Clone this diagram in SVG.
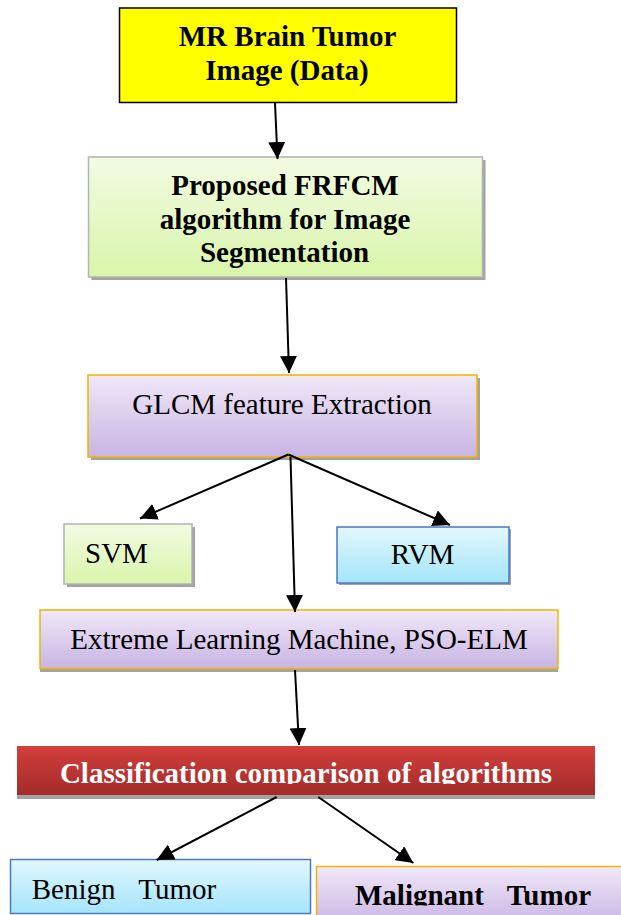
<svg xmlns="http://www.w3.org/2000/svg" width="621" height="915" viewBox="0 0 621 915">
<defs>
<linearGradient id="gGreen" x1="0" y1="0" x2="0" y2="1"><stop offset="0" stop-color="#f2fbe3"/><stop offset="1" stop-color="#d9f5aa"/></linearGradient>
<linearGradient id="gPurple" x1="0" y1="0" x2="0" y2="1"><stop offset="0" stop-color="#f0e8f8"/><stop offset="1" stop-color="#c8b4e3"/></linearGradient>
<linearGradient id="gBlue" x1="0" y1="0" x2="0" y2="1"><stop offset="0" stop-color="#e2f7fd"/><stop offset="1" stop-color="#a4e5fb"/></linearGradient>
<linearGradient id="gRed" x1="0" y1="0" x2="0" y2="1"><stop offset="0" stop-color="#d33f3b"/><stop offset="1" stop-color="#a22b2a"/></linearGradient>
<marker id="arr" markerUnits="userSpaceOnUse" markerWidth="17" markerHeight="17" refX="16" refY="8" orient="auto" viewBox="0 0 16 16"><path d="M0,0 L16,8 L0,16 z" fill="#000"/></marker>
<clipPath id="clipCls"><rect x="0" y="740" width="621" height="44"/></clipPath>
<clipPath id="clipMal"><rect x="316" y="866" width="305" height="39.5"/></clipPath>
</defs>
<style>
.t{font-family:"Liberation Serif","Times New Roman",serif;font-size:29px;fill:#000}
.b{font-weight:bold}
.c{text-anchor:middle}
.sh{fill:#a3a3a3}
.conn{stroke:#000;stroke-width:2;fill:none;marker-end:url(#arr)}
</style>

<g id="node-data">
<rect x="119.5" y="8" width="337" height="94.5" fill="#ffff00" stroke="#000" stroke-width="1.5"/>
<text class="t b c" x="287.5" y="46">MR Brain Tumor</text>
<text class="t b c" x="287" y="80">Image (Data)</text>
</g>

<g id="node-frfcm">
<rect class="sh" x="91.5" y="160" width="394" height="120"/>
<rect x="88.5" y="157" width="394" height="120" fill="url(#gGreen)" stroke="#b3b3b3" stroke-width="1.5"/>
<text class="t b c" x="285" y="195">Proposed FRFCM</text>
<text class="t b c" x="285" y="229">algorithm for Image</text>
<text class="t b c" x="284.5" y="262">Segmentation</text>
</g>

<g id="node-glcm">
<rect class="sh" x="91" y="378" width="389" height="82"/>
<rect x="88" y="375" width="389" height="82" fill="url(#gPurple)" stroke="#f2b400" stroke-width="1.5"/>
<text class="t c" x="282" y="413.5">GLCM feature Extraction</text>
</g>

<g id="node-svm">
<rect class="sh" x="67" y="527" width="128" height="60"/>
<rect x="64" y="524" width="128" height="60" fill="url(#gGreen)" stroke="#b3b3b3" stroke-width="1.5"/>
<text class="t" x="85" y="563">SVM</text>
</g>

<g id="node-rvm">
<rect class="sh" x="339" y="529" width="172" height="56"/>
<rect x="337" y="527" width="172" height="56" fill="url(#gBlue)" stroke="#4a78c2" stroke-width="1.5"/>
<text class="t c" x="422.5" y="564">RVM</text>
</g>

<g id="node-elm">
<rect class="sh" x="40" y="613" width="518" height="59"/>
<rect x="40" y="610" width="518" height="58.5" fill="url(#gPurple)" stroke="#f2b400" stroke-width="1.5"/>
<text class="t c" x="299" y="649">Extreme Learning Machine, PSO-ELM</text>
</g>

<g id="node-classification">
<rect class="sh" x="17" y="750" width="578" height="49"/>
<rect x="17" y="746" width="578" height="49" fill="url(#gRed)"/>
<g clip-path="url(#clipCls)">
<text class="t b c" x="306" y="782.5" style="fill:#ffffff">Classification comparison of algorithms</text>
</g>
</g>

<g id="node-benign">
<rect x="10.5" y="859.5" width="300" height="54" fill="url(#gBlue)" stroke="#4a78c2" stroke-width="1.5"/>
<text class="t" x="31.7" y="898.5">Benign<tspan x="138.3">Tumor</tspan></text>
</g>

<g id="node-malignant">
<rect x="316.5" y="866.5" width="310" height="60" fill="url(#gPurple)" stroke="#f2b400" stroke-width="1.5"/>
<g clip-path="url(#clipMal)">
<text class="t b" x="355" y="904.5">Malignant<tspan x="506.7">Tumor</tspan></text>
</g>
</g>

<g id="connectors">
<line class="conn" x1="275" y1="103" x2="277.5" y2="159"/>
<line class="conn" x1="286" y1="278" x2="289" y2="373"/>
<line class="conn" x1="288.3" y1="454.5" x2="140" y2="518.5"/>
<line class="conn" x1="288.3" y1="454.5" x2="450" y2="525"/>
<line class="conn" x1="290.5" y1="457" x2="295" y2="612"/>
<line class="conn" x1="295" y1="670" x2="299" y2="745"/>
<line class="conn" x1="276.7" y1="797" x2="156.7" y2="860"/>
<line class="conn" x1="318.3" y1="797" x2="413.3" y2="863"/>
</g>
</svg>
